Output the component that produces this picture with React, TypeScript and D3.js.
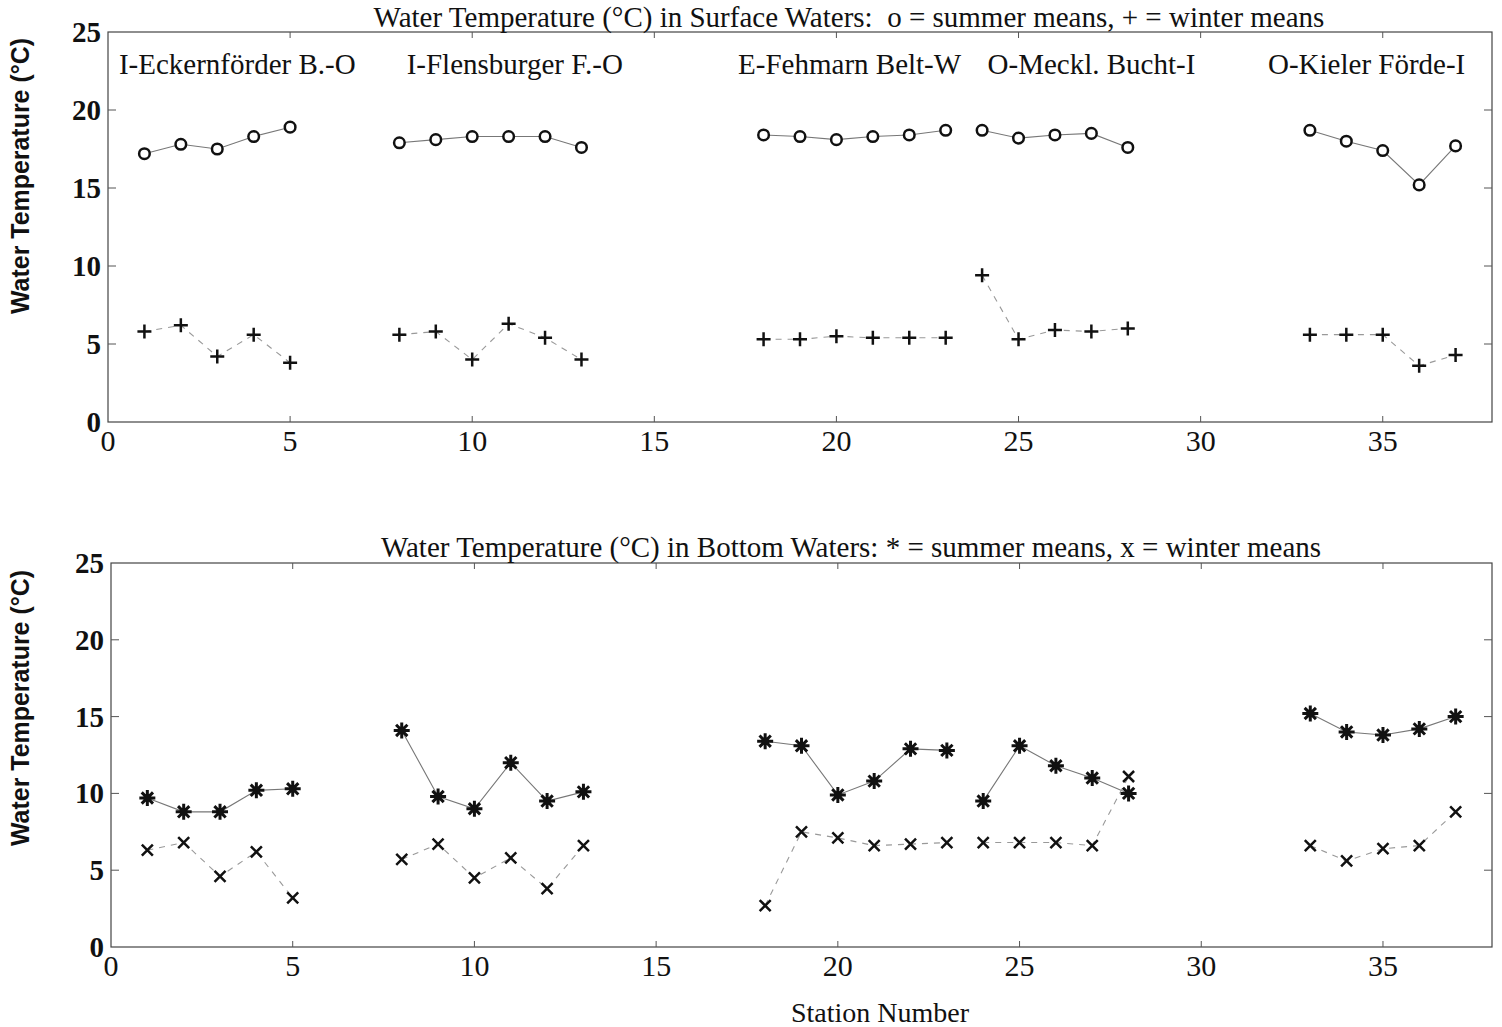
import { useRef, useEffect } from 'react';
import * as d3 from 'd3';

// station groups (transects) and their labels
const groups = [
  [1, 2, 3, 4, 5],
  [8, 9, 10, 11, 12, 13],
  [18, 19, 20, 21, 22, 23],
  [24, 25, 26, 27, 28],
  [33, 34, 35, 36, 37],
];
const groupLabels = [
  { text: 'I-Eckernförder B.-O', x: 0.3 },
  { text: 'I-Flensburger F.-O', x: 8.2 },
  { text: 'E-Fehmarn Belt-W', x: 17.3 },
  { text: 'O-Meckl. Bucht-I', x: 24.15 },
  { text: 'O-Kieler Förde-I', x: 31.85 },
];

const surfaceSummer = [
  [17.2, 17.8, 17.5, 18.3, 18.9],
  [17.9, 18.1, 18.3, 18.3, 18.3, 17.6],
  [18.4, 18.3, 18.1, 18.3, 18.4, 18.7],
  [18.7, 18.2, 18.4, 18.5, 17.6],
  [18.7, 18.0, 17.4, 15.2, 17.7],
];
const surfaceWinter = [
  [5.8, 6.2, 4.2, 5.6, 3.8],
  [5.6, 5.8, 4.0, 6.3, 5.4, 4.0],
  [5.3, 5.3, 5.5, 5.4, 5.4, 5.4],
  [9.4, 5.3, 5.9, 5.8, 6.0],
  [5.6, 5.6, 5.6, 3.6, 4.3],
];
const bottomSummer = [
  [9.7, 8.8, 8.8, 10.2, 10.3],
  [14.1, 9.8, 9.0, 12.0, 9.5, 10.1],
  [13.4, 13.1, 9.9, 10.8, 12.9, 12.8],
  [9.5, 13.1, 11.8, 11.0, 10.0],
  [15.2, 14.0, 13.8, 14.2, 15.0],
];
const bottomWinter = [
  [6.3, 6.8, 4.6, 6.2, 3.2],
  [5.7, 6.7, 4.5, 5.8, 3.8, 6.6],
  [2.7, 7.5, 7.1, 6.6, 6.7, 6.8],
  [6.8, 6.8, 6.8, 6.6, 11.1],
  [6.6, 5.6, 6.4, 6.6, 8.8],
];

const xTicks = [0, 5, 10, 15, 20, 25, 30, 35];
const yTicks = [0, 5, 10, 15, 20, 25];

const SERIF = '"Liberation Serif", "Times New Roman", serif';
const SANS = '"Liberation Sans", Arial, sans-serif';

function drawMarker(g, kind, cx, cy) {
  if (kind === 'o') {
    g.append('circle').attr('cx', cx).attr('cy', cy).attr('r', 5.3)
      .attr('fill', 'white').attr('stroke', '#111').attr('stroke-width', 2.5);
  } else if (kind === '+') {
    g.append('path').attr('d', `M${cx - 7},${cy}H${cx + 7}M${cx},${cy - 7}V${cy + 7}`)
      .attr('stroke', '#111').attr('stroke-width', 2.5);
  } else if (kind === 'x') {
    g.append('path').attr('d', `M${cx - 5.5},${cy - 5.5}L${cx + 5.5},${cy + 5.5}M${cx - 5.5},${cy + 5.5}L${cx + 5.5},${cy - 5.5}`)
      .attr('stroke', '#111').attr('stroke-width', 2.5);
  } else {
    // asterisk
    const r = 8;
    let d = '';
    for (let k = 0; k < 4; k++) {
      const a = (k * Math.PI) / 4;
      d += `M${cx - r * Math.sin(a)},${cy - r * Math.cos(a)}L${cx + r * Math.sin(a)},${cy + r * Math.cos(a)}`;
    }
    g.append('path').attr('d', d).attr('stroke', '#111').attr('stroke-width', 3);
    g.append('circle').attr('cx', cx).attr('cy', cy).attr('r', 3.5).attr('fill', '#111');
  }
}

function Panel({ box, title, titleY, titleX, summer, winter, summerMark, winterMark, showGroups, yLabelY }) {
  const ref = useRef(null);

  useEffect(() => {
    const svg = d3.select(ref.current);
    svg.selectAll('*').remove();

    const x = d3.scaleLinear().domain([0, 38]).range([box.left, box.right]);
    const y = d3.scaleLinear().domain([0, 25]).range([box.bottom, box.top]);

    const g = svg.append('g');

    // frame
    g.append('rect')
      .attr('x', box.left).attr('y', box.top)
      .attr('width', box.right - box.left).attr('height', box.bottom - box.top)
      .attr('fill', 'none').attr('stroke', '#444').attr('stroke-width', 1.2);

    // inward ticks
    xTicks.forEach(t => {
      if (t === 0) return;
      g.append('line').attr('x1', x(t)).attr('x2', x(t))
        .attr('y1', box.bottom).attr('y2', box.bottom - 6).attr('stroke', '#555');
      g.append('line').attr('x1', x(t)).attr('x2', x(t))
        .attr('y1', box.top).attr('y2', box.top + 6).attr('stroke', '#555');
    });
    yTicks.forEach(t => {
      if (t === 0 || t === 25) return;
      g.append('line').attr('x1', box.left).attr('x2', box.left + 8)
        .attr('y1', y(t)).attr('y2', y(t)).attr('stroke', '#555');
      g.append('line').attr('x1', box.right).attr('x2', box.right - 8)
        .attr('y1', y(t)).attr('y2', y(t)).attr('stroke', '#555');
    });

    // tick labels
    xTicks.forEach(t => {
      g.append('text').attr('x', x(t)).attr('y', box.bottom + 29)
        .attr('text-anchor', 'middle').attr('font-family', SERIF)
        .attr('font-size', 30).attr('fill', '#111').text(t);
    });
    yTicks.forEach(t => {
      g.append('text').attr('x', box.left - 7).attr('y', y(t) + 10)
        .attr('text-anchor', 'end').attr('font-family', SERIF)
        .attr('font-size', 29).attr('font-weight', 'bold').attr('fill', '#111').text(t);
    });

    // y axis label
    g.append('text')
      .attr('transform', `translate(29,${yLabelY}) rotate(-90)`)
      .attr('text-anchor', 'middle').attr('font-family', SANS)
      .attr('font-weight', 'bold').attr('font-size', 25)
      .attr('textLength', 276).attr('lengthAdjust', 'spacingAndGlyphs')
      .attr('fill', '#111').text('Water Temperature (°C)');

    // title
    g.append('text').attr('x', titleX).attr('y', titleY)
      .attr('text-anchor', 'middle').attr('font-family', SERIF)
      .attr('font-size', 29).attr('fill', '#111')
      .style('white-space', 'pre').text(title);

    if (showGroups) {
      groupLabels.forEach(l => {
        g.append('text').attr('x', x(l.x)).attr('y', box.top + 42)
          .attr('font-family', SERIF).attr('font-size', 29).attr('fill', '#111')
          .text(l.text);
      });
    }

    const line = d3.line().x(d => x(d[0])).y(d => y(d[1]));

    groups.forEach((stations, gi) => {
      const s = stations.map((st, i) => [st, summer[gi][i]]);
      const w = stations.map((st, i) => [st, winter[gi][i]]);
      g.append('path').datum(s).attr('d', line).attr('fill', 'none')
        .attr('stroke', '#777').attr('stroke-width', 1.1);
      g.append('path').datum(w).attr('d', line).attr('fill', 'none')
        .attr('stroke', '#999').attr('stroke-width', 1.1).attr('stroke-dasharray', '6,6');
      s.forEach(d => drawMarker(g, summerMark, x(d[0]), y(d[1])));
      w.forEach(d => drawMarker(g, winterMark, x(d[0]), y(d[1])));
    });
  }, [box, title, titleY, titleX, summer, winter, summerMark, winterMark, showGroups, yLabelY]);

  return <g ref={ref} />;
}

const topBox = { left: 108, right: 1492, top: 32, bottom: 422 };
const bottomBox = { left: 111, right: 1492, top: 563, bottom: 947 };

export default function App() {
  return (
    <svg width={1502} height={1027} style={{ position: 'absolute', left: 0, top: 0, background: 'white' }}>
      <rect width={1502} height={1027} fill="white" />
      <Panel
        box={topBox}
        title="Water Temperature (°C) in Surface Waters:  o = summer means, + = winter means"
        titleX={849}
        titleY={27}
        summer={surfaceSummer}
        winter={surfaceWinter}
        summerMark="o"
        winterMark="+"
        showGroups
        yLabelY={176}
      />
      <Panel
        box={bottomBox}
        title="Water Temperature (°C) in Bottom Waters: * = summer means, x = winter means"
        titleX={851}
        titleY={557}
        summer={bottomSummer}
        winter={bottomWinter}
        summerMark="*"
        winterMark="x"
        showGroups={false}
        yLabelY={708}
      />
      <text x={880} y={1022} textAnchor="middle" fontFamily={SERIF} fontSize={28} fill="#111">
        Station Number
      </text>
    </svg>
  );
}
